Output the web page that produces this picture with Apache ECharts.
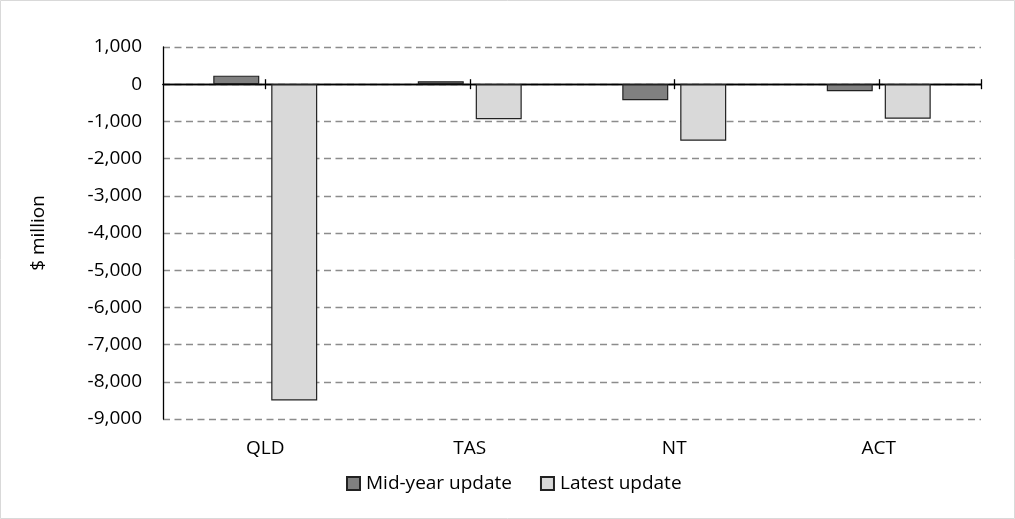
<!DOCTYPE html>
<html>
<head>
<meta charset="utf-8">
<script src="https://cdn.jsdelivr.net/npm/echarts@6/dist/echarts.min.js"></script>
<style>
  html, body { margin: 0; padding: 0; background: #fff; }
  #chart { width: 1015px; height: 519px; }
</style>
</head>
<body>
<div id="chart"></div>
<script>
// Budget revisions by jurisdiction, $ million
const categories = ['QLD', 'TAS', 'NT', 'ACT'];
const midYearUpdate = [230, 80, -430, -190];
const latestUpdate = [-8500, -940, -1520, -930];
const yTicks = [1000, 0, -1000, -2000, -3000, -4000, -5000, -6000, -7000, -8000, -9000];

const FONT = '"Open Sans", "Noto Sans", sans-serif';
const FS = 19;
const yMin = Math.min(...yTicks);
const yMax = Math.max(...yTicks);

// zero-line tick marks: category centres plus the right end
const zeroTicks = categories.map((_, i) => i + 0.5).concat([categories.length]);

const chart = echarts.init(document.getElementById('chart'), null, { renderer: 'canvas' });

// two value x-axes sitting on the zero line, ticks pointing down and up
const zeroAxis = (position, yIndex) => ({
  type: 'value',
  position: position,
  min: 0,
  max: categories.length,
  axisLine: { show: true, onZero: true, onZeroAxisIndex: yIndex, lineStyle: { color: '#000', width: 1.3 } },
  axisTick: { show: true, inside: false, length: 5, customValues: zeroTicks,
              lineStyle: { color: '#000', width: 1.3 } },
  axisLabel: { show: false },
  splitLine: { show: false }
});

chart.setOption({
  animation: false,
  backgroundColor: '#fff',
  textStyle: { fontFamily: FONT },
  graphic: [{
    type: 'rect',
    shape: { x: 0.5, y: 0.5, width: 1014, height: 518 },
    style: { fill: 'none', stroke: '#d9d9d9', lineWidth: 1 },
    silent: true
  }],
  grid: { left: 163, right: 34, top: 47, bottom: 100, containLabel: false },
  legend: {
    left: 341,
    top: 469,
    itemWidth: 13,
    itemHeight: 13,
    itemGap: 28,
    icon: 'rect',
    textStyle: { fontFamily: FONT, fontSize: FS, color: '#000', padding: [0, 0, 0, 1] },
    data: ['Mid-year update', 'Latest update']
  },
  xAxis: [
    {
      type: 'category',
      data: categories,
      position: 'bottom',
      axisLine: { show: false, onZero: false },
      axisTick: { show: false },
      axisLabel: { margin: 20, fontFamily: FONT, fontSize: FS, color: '#000' },
      splitLine: { show: false }
    },
    zeroAxis('bottom', 0),
    zeroAxis('top', 1)
  ],
  yAxis: [
    {
      type: 'value',
      min: yMin,
      max: yMax,
      interval: 1000,
      name: '$ million',
      nameLocation: 'middle',
      nameGap: 115,
      nameTextStyle: { fontFamily: FONT, fontSize: FS, color: '#000' },
      axisLine: { show: true, lineStyle: { color: '#000', width: 1.3 } },
      axisTick: { show: false },
      axisLabel: {
        margin: 21,
        fontFamily: FONT,
        fontSize: FS,
        color: '#000',
        formatter: (v) => v.toLocaleString('en-US')
      },
      splitLine: { show: true, lineStyle: { color: '#8c8c8c', width: 1.3, type: [7, 4.5] } }
    },
    {
      // hidden twin scale so the upward tick row can also sit on zero
      type: 'value',
      min: yMin,
      max: yMax,
      interval: 1000,
      show: false,
      position: 'right'
    }
  ],
  series: [
    {
      name: 'Mid-year update',
      type: 'bar',
      xAxisIndex: 0,
      data: midYearUpdate,
      barWidth: 46,
      barGap: '26%',
      itemStyle: { color: '#808080', borderColor: '#222', borderWidth: 1.2 }
    },
    {
      name: 'Latest update',
      type: 'bar',
      xAxisIndex: 0,
      data: latestUpdate,
      barWidth: 46,
      barGap: '26%',
      itemStyle: { color: '#d9d9d9', borderColor: '#222', borderWidth: 1.2 }
    }
  ]
});
</script>
</body>
</html>
